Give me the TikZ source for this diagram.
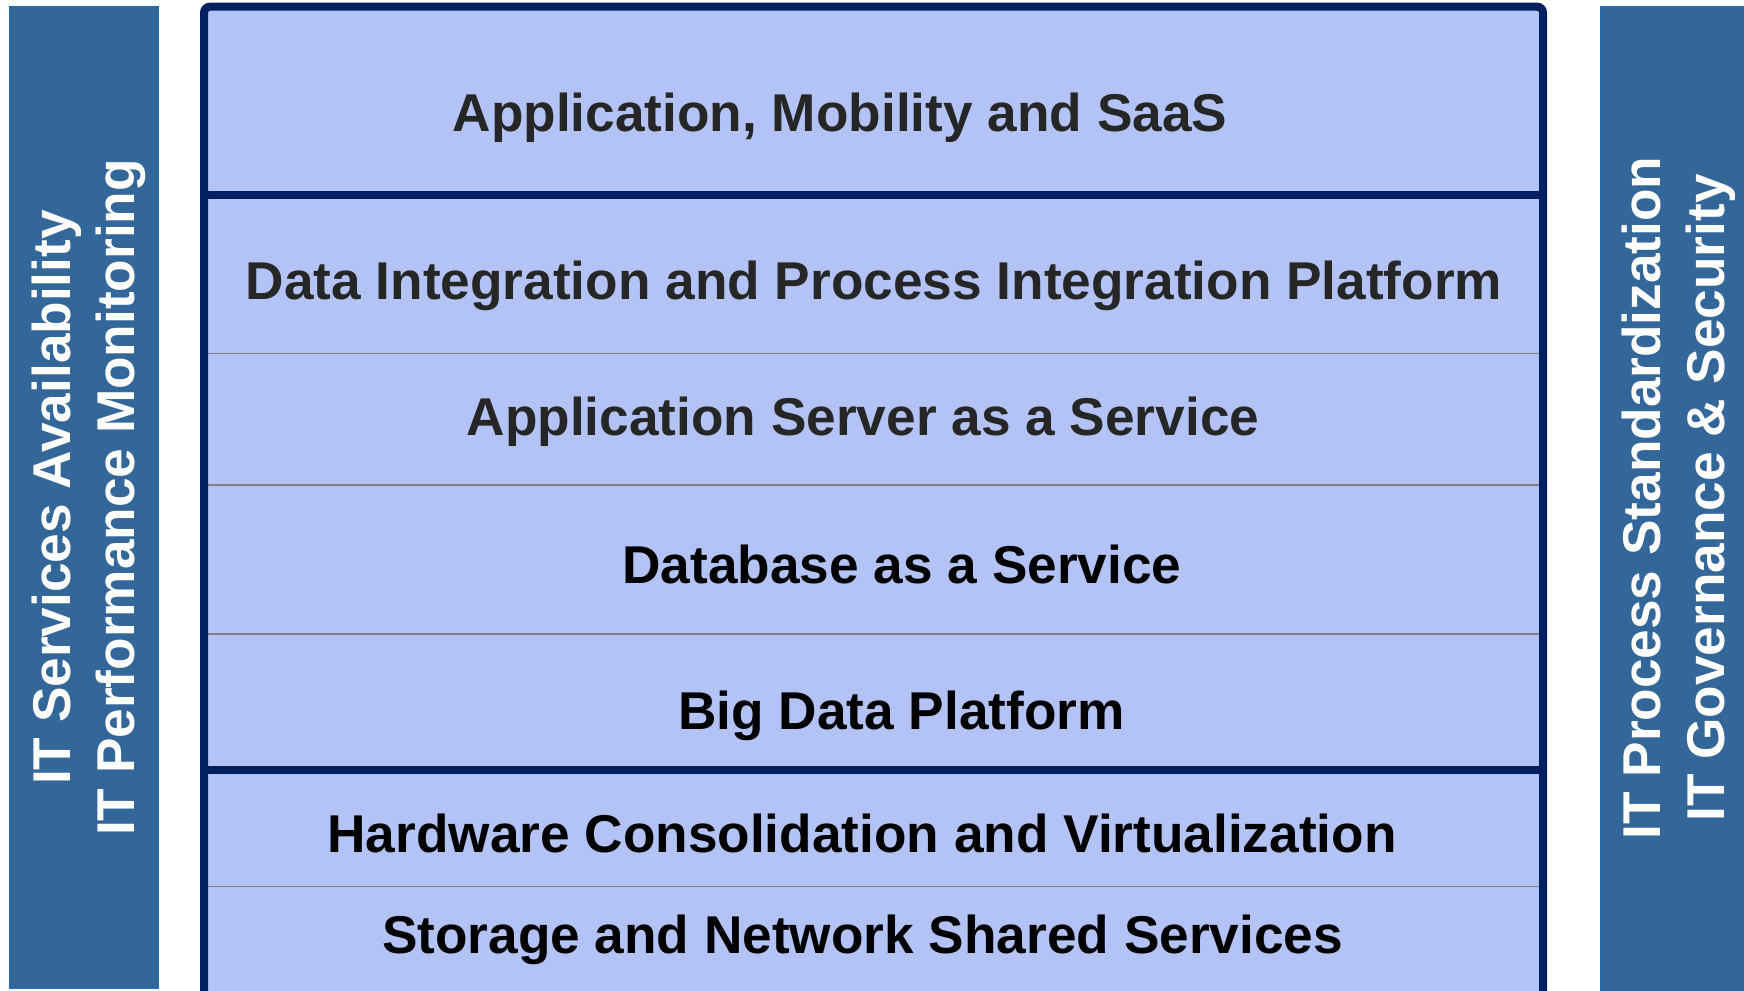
\documentclass[tikz,border=0pt]{standalone}
\usepackage{fontspec}
\setmainfont{Liberation Sans}
\definecolor{sidefill}{RGB}{51,102,153}
\definecolor{sideedge}{RGB}{30,110,200}
\definecolor{layerfill}{RGB}{179,195,245}
\definecolor{navy}{RGB}{0,32,96}
\definecolor{sepgray}{RGB}{128,128,128}
\definecolor{darktext}{RGB}{38,38,38}
\tikzset{
  layertext/.style={anchor=base, inner sep=0pt, font=\fontsize{26.6pt}{32pt}\selectfont\bfseries},
  sidetext/.style={rotate=90, align=center, inner sep=0pt, text=white, font=\fontsize{26.6pt}{32pt}\selectfont\bfseries},
  thickline/.style={draw=navy, line width=4pt},
  thinline/.style={draw=sepgray, line width=0.65pt},
}
\begin{document}
\begin{tikzpicture}[x=0.5pt,y=-0.5pt]
\useasboundingbox (0,0) rectangle (1744,990);
\begin{scope}
\clip (0,0) rectangle (1744,990);
% side bars
\fill[sidefill] (9.5,6.5) rectangle (158.5,988.5);
\draw[sideedge, line width=0.75pt] (9.5,6.5) rectangle (158.5,988.5);
\fill[sidefill] (1600.5,6.5) rectangle (1760,1000);
\draw[sideedge, line width=0.75pt] (1760,6.5) -- (1600.5,6.5) -- (1600.5,1000);
% central stack
\fill[layerfill] (204,6.7) rectangle (1543,1000);
\draw[thinline] (204,353.7) -- (1543,353.7);
\draw[thinline] (204,485) -- (1543,485);
\draw[thinline] (204,634) -- (1543,634);
\draw[thinline] (204,886.5) -- (1543,886.5);
\draw[thickline] (204,194.5) -- (1543,194.5);
\draw[thickline] (204,770) -- (1543,770);
\draw[thickline, rounded corners=3pt] (204,1000) -- (204,6.7) -- (1543,6.7) -- (1543,1000);
\end{scope}
% layer labels
\node[layertext, text=darktext] (app) at (840,131.7) {Application, Mobility and SaaS};
\node[layertext, text=darktext] (dip) at (874,299) {Data Integration and Process Integration Platform};
\node[layertext, text=darktext] (ass) at (863,435.5) {Application Server as a Service};
\node[layertext, text=black] (dbs) at (902,583) {Database as a Service};
\node[layertext, text=black] (bdp) at (901.5,729.5) {Big Data Platform};
\node[layertext, text=black] (hcv) at (862,852.5) {Hardware Consolidation and Virtualization};
\node[layertext, text=black] (sns) at (862.5,953.5) {Storage and Network Shared Services};
% side labels
\node[sidetext] (left) at (89,497.5) {IT Services Availability\\IT Performance Monitoring};
\node[sidetext] (right) at (1678.5,498) {IT Process Standardization\\IT Governance \& Security};
\end{tikzpicture}
\end{document}
